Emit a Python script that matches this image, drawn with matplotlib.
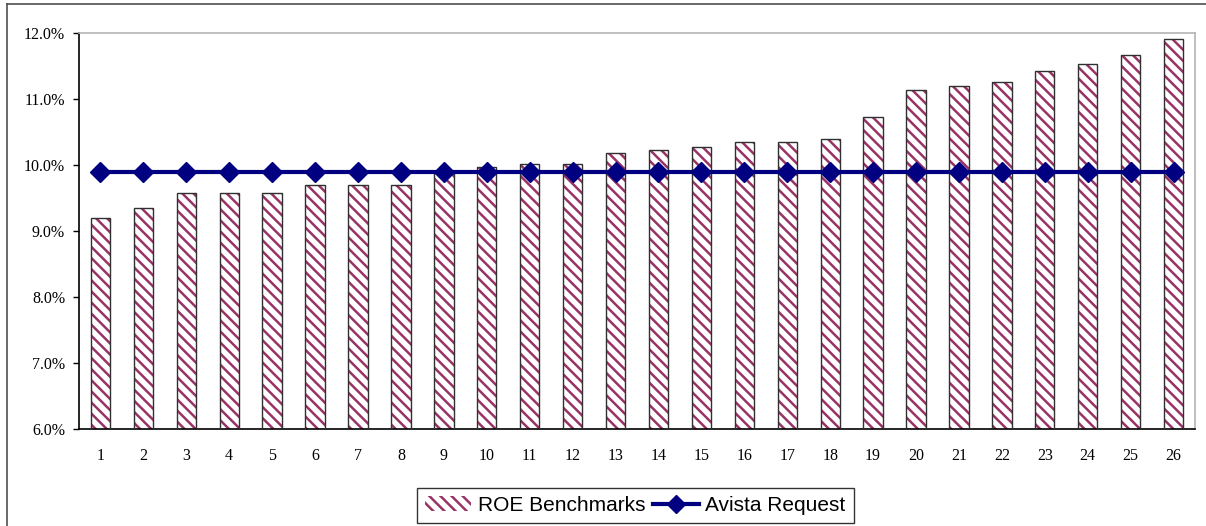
import matplotlib
matplotlib.use("Agg")
import matplotlib.pyplot as plt
from matplotlib.lines import Line2D
from matplotlib.patches import Patch
from matplotlib.ticker import FuncFormatter

# ROE benchmark values (%), plus the flat Avista request
benchmarks = [1, 2, 3, 4, 5, 6, 7, 8, 9, 10, 11, 12, 13, 14, 15, 16, 17, 18, 19, 20, 21, 22, 23, 24, 25, 26]
roe_values = [9.19, 9.35, 9.57, 9.57, 9.58, 9.70, 9.70, 9.70, 9.88, 9.97, 10.01, 10.02, 10.18,
              10.22, 10.28, 10.35, 10.35, 10.40, 10.72, 11.13, 11.20, 11.26, 11.42, 11.53, 11.67, 11.91]
avista_request = [9.90] * len(benchmarks)

HATCH_COLOR = "#993366"
LINE_COLOR = "#000080"

plt.rcParams["hatch.linewidth"] = 1.8

fig = plt.figure(figsize=(12.06, 5.26), dpi=100)
ax = fig.add_axes([0.0655, 0.1844, 0.9254, 0.7529])

# hatched fill, then a separate outline so the edge stays dark
ax.bar(benchmarks, roe_values, width=0.45, bottom=0, color="white",
       edgecolor=HATCH_COLOR, hatch="\\\\\\", linewidth=0, zorder=2)
ax.bar(benchmarks, roe_values, width=0.45, fill=False,
       edgecolor="#303030", linewidth=1.0, zorder=3)

ax.plot(benchmarks, avista_request, color=LINE_COLOR, linewidth=3,
        marker="D", markersize=10, zorder=4)

ax.set_xlim(0.5, 26.5)
ax.set_ylim(6.0, 12.0)
ax.set_yticks([6, 7, 8, 9, 10, 11, 12])
ax.yaxis.set_major_formatter(FuncFormatter(lambda v, _: f"{v:.1f}%"))
ax.set_xticks(benchmarks)

for lbl in ax.get_xticklabels() + ax.get_yticklabels():
    lbl.set_fontfamily("Liberation Serif")
    lbl.set_fontsize(11.5)

ax.tick_params(axis="x", length=0, pad=14)
ax.tick_params(axis="y", length=4, width=1, pad=6, direction="out")

ax.spines["left"].set_color("black")
ax.spines["bottom"].set_color("black")
ax.spines["top"].set_color("#b4b4b4")
ax.spines["right"].set_color("#b4b4b4")
for s in ax.spines.values():
    s.set_linewidth(1.2)

handles = [
    Patch(facecolor="white", edgecolor=HATCH_COLOR, hatch="\\\\\\", linewidth=0),
    Line2D([0], [0], color=LINE_COLOR, linewidth=3, marker="D", markersize=9),
]
leg = fig.legend(handles, ["ROE Benchmarks", "Avista Request"], loc="center",
                 bbox_to_anchor=(0.527, 0.039), bbox_transform=fig.transFigure,
                 ncol=2, frameon=True, fancybox=False, edgecolor="black",
                 prop={"family": "Liberation Sans", "size": 15},
                 handlelength=2.2, columnspacing=0.4, handletextpad=0.3,
                 borderpad=0.4)
leg.get_frame().set_linewidth(1.0)

# outer chart frame (top and left edges visible in the crop)
fig.add_artist(Line2D([7 / 1206, 7 / 1206], [0, 1 - 4 / 526], color="#505050",
                      linewidth=1.2, transform=fig.transFigure))
fig.add_artist(Line2D([7 / 1206, 1], [1 - 4 / 526, 1 - 4 / 526], color="#505050",
                      linewidth=1.2, transform=fig.transFigure))

fig.savefig("out.png", dpi=100)
plt.close(fig)
